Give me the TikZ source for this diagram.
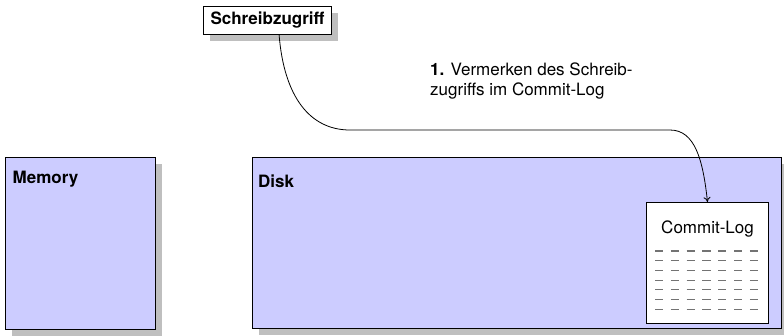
\documentclass[tikz,border=0pt]{standalone}
\usepackage{fontspec}
\setmainfont{TeX Gyre Heros}
\usetikzlibrary{shadows,calc,arrows.meta}
\definecolor{lavender}{HTML}{CCCCFF}
\tikzset{
  shadowed/.style={drop shadow={shadow xshift=6pt,shadow yshift=-6pt,fill=black!25,opacity=1}},
  storebox/.style={draw=black,line width=1pt,fill=lavender,inner sep=0pt,anchor=north west,shadowed},
  plainbox/.style={draw=black,line width=1pt,fill=white,inner sep=0pt,anchor=north west},
  boxtitle/.style={font=\fontsize{17}{20}\selectfont\bfseries,anchor=base west,inner sep=0pt},
  note/.style={font=\fontsize{17}{20}\selectfont,anchor=base west,inner sep=0pt},
  logline/.style={draw=black!55,line width=1.2pt,dash pattern=on 8pt off 7.83pt},
  flow/.style={line width=0.8pt,-{To[length=5pt,width=7pt]}}
}
\begin{document}
\begin{tikzpicture}[x=1pt,y=-1pt]
  \useasboundingbox (0,0) rectangle (784,335);

  % storage areas
  \node[storebox,minimum width=150pt,minimum height=172pt] (mem) at (5,157) {};
  \node[boxtitle] (memlabel) at (12.5,183) {Memory};
  \node[storebox,minimum width=529pt,minimum height=171pt] (disk) at (252,157) {};
  \node[boxtitle] (disklabel) at (258,187) {Disk};

  % commit log inside the disk
  \node[plainbox,minimum width=122pt,minimum height=121pt] (cl) at (646,202) {};
  \node[note,anchor=base] (cltitle) at ($(cl.north)+(0,31)$) {Commit-Log};
  \foreach \i in {0,...,6}
    \draw[logline] ($(cl.north west)+(9,49+9.7*\i)$) -- ($(cl.north west)+(112,49+9.7*\i)$);

  % write access
  \node[draw=black,line width=1pt,fill=white,inner sep=0pt,minimum width=128pt,minimum height=28pt,
        anchor=north west,shadowed,font=\fontsize{17}{20}\selectfont\bfseries] (sz) at (203,6) {Schreibzugriff};

  % step label
  \node[note] (step1) at (430,75) {\textbf{1.} Vermerken des Schreib-};
  \node[note] (step1b) at (430,95) {zugriffs im Commit-Log};

  % path of the write access into the log
  \coordinate (bendA) at (350,130);
  \coordinate (bendB) at (670,130);
  \draw[flow] ($(sz.south west)!0.59!(sz.south east)$)
      .. controls +(5,62) and (310,130) .. (bendA)
      -- (bendB)
      .. controls (695,130) and (703,160) .. (cl.north);
\end{tikzpicture}
\end{document}
